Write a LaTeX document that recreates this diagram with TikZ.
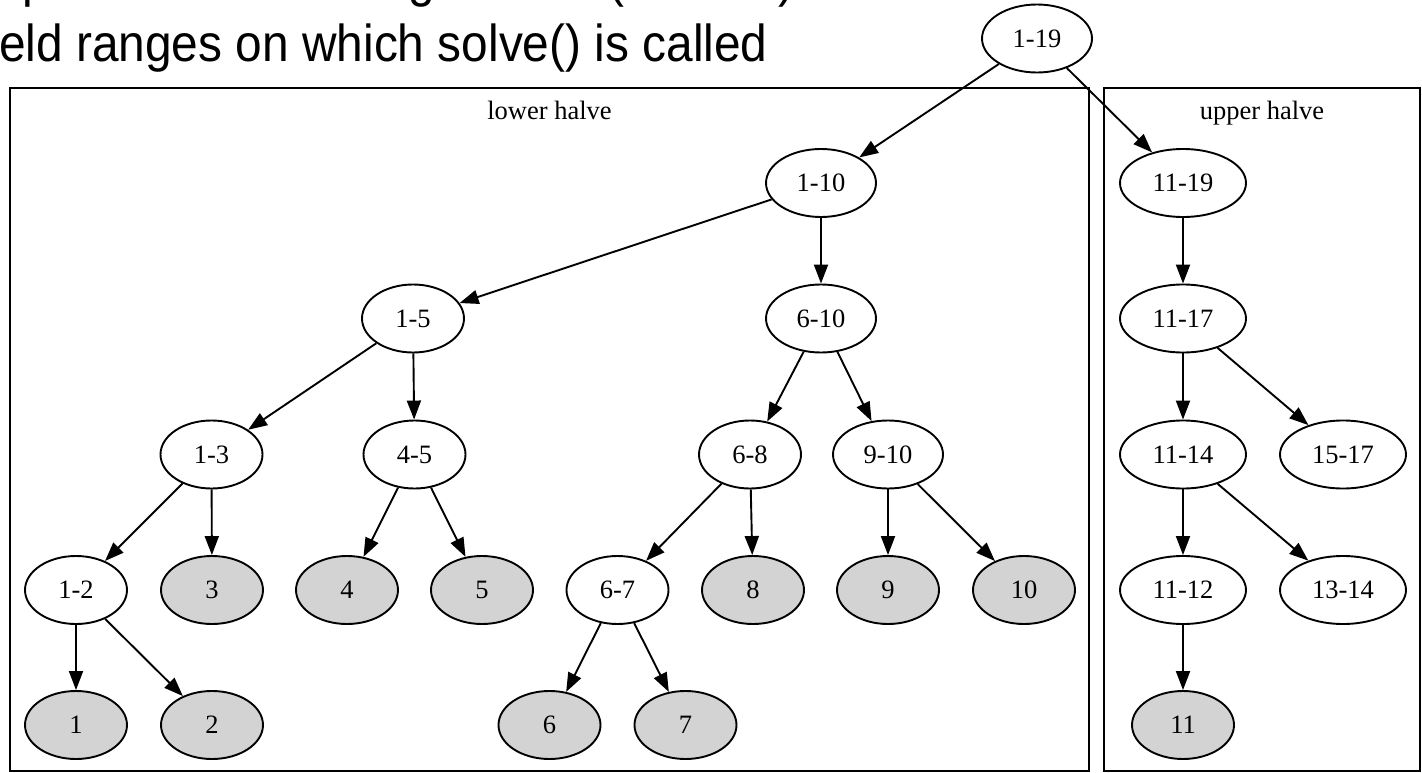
\documentclass[tikz,border=0pt]{standalone}
\usepackage{graphicx}
\usepackage{fontspec}
\setmainfont{Liberation Serif}
\newfontfamily\hdrfont{Liberation Sans}
\usetikzlibrary{shapes.geometric,arrows.meta}
\definecolor{lightg}{HTML}{D3D3D3}
\tikzset{
  nd/.style={ellipse, draw, line width=1.9pt, minimum width=102pt, minimum height=68pt, inner sep=0pt, font=\fontsize{26.5}{30}\selectfont},
  leaf/.style={nd, fill=lightg},
  w3/.style={minimum width=110pt},
  w4/.style={minimum width=126pt},
  arr/.style={-{Triangle[length=19pt,width=14pt]}, line width=1.9pt},
  clus/.style={draw, line width=1.9pt},
  clab/.style={font=\fontsize{26.5}{30}\selectfont, inner sep=0pt, anchor=base},
  hdr/.style={anchor=base west, inner sep=0pt, font=\hdrfont\fontsize{52}{56}\selectfont}
}
\begin{document}
\begin{tikzpicture}[x=1pt,y=-1pt]
\useasboundingbox (0,0) rectangle (1422,773);
% header: cut-off first line (only descenders visible)
\begin{scope}
\clip (0,0) rectangle (1422,11);
\node[hdr] (f1) at (22,-3) {\scalebox{0.92}[1]{p}};
\node[hdr] (f2) at (408,-3) {\scalebox{0.92}[1]{g}};
\node[hdr] (f3) at (608,-3) {\scalebox{0.92}[1]{(}};
\node[hdr] (f4) at (778,-3) {\scalebox{0.92}[1]{)}};
\end{scope}
\node[hdr] (hdr) at (-1,62) {\scalebox{0.92}[1]{eld ranges on which solve() is called}};
% clusters
\node[clus, minimum width=1079pt, minimum height=683pt, inner sep=0pt] (lowbox) at (549.5,429.5) {};
\node[clus, minimum width=316pt, minimum height=683pt, inner sep=0pt] (upbox) at (1262,429.5) {};
\node[clab] (lowlab) at (549.5,120) {lower halve};
\node[clab] (uplab) at (1262,120) {upper halve};
% nodes
\node[nd,w3] (n119) at (1037,38.5) {1-19};
\node[nd,w3] (n110) at (821,183) {1-10};
\node[nd,w4] (n1119) at (1183,183) {11-19};
\node[nd] (n15) at (413,318.5) {1-5};
\node[nd,w3] (n610) at (821,318.5) {6-10};
\node[nd,w4] (n1117) at (1183,318.5) {11-17};
\node[nd] (n13) at (211.5,454.5) {1-3};
\node[nd] (n45) at (414.5,454.5) {4-5};
\node[nd] (n68) at (750,454.5) {6-8};
\node[nd,w3] (n910) at (888,454.5) {9-10};
\node[nd,w4] (n1114) at (1183,454.5) {11-14};
\node[nd,w4] (n1517) at (1343,454.5) {15-17};
\node[nd] (n12) at (76,590) {1-2};
\node[leaf] (l3) at (212,590) {3};
\node[leaf] (l4) at (347,590) {4};
\node[leaf] (l5) at (482,590) {5};
\node[nd] (n67) at (617.5,590) {6-7};
\node[leaf] (l8) at (753,590) {8};
\node[leaf] (l9) at (888,590) {9};
\node[leaf] (l10) at (1024,590) {10};
\node[nd,w4] (n1112) at (1183,590) {11-12};
\node[nd,w4] (n1314) at (1343,590) {13-14};
\node[leaf] (l1) at (76,725) {1};
\node[leaf] (l2) at (212,725) {2};
\node[leaf] (l6) at (549.5,725) {6};
\node[leaf] (l7) at (685.5,725) {7};
\node[leaf] (l11) at (1183,725) {11};
% edges
\draw[arr] (n119) -- (n110);
\draw[arr] (n119) -- (n1119);
\draw[arr] (n110) -- (n15);
\draw[arr] (n110) -- (n610);
\draw[arr] (n15) -- (n13);
\draw[arr] (n15) -- (n45);
\draw[arr] (n610) -- (n68);
\draw[arr] (n610) -- (n910);
\draw[arr] (n13) -- (n12);
\draw[arr] (n13) -- (l3);
\draw[arr] (n45) -- (l4);
\draw[arr] (n45) -- (l5);
\draw[arr] (n68) -- (n67);
\draw[arr] (n68) -- (l8);
\draw[arr] (n910) -- (l9);
\draw[arr] (n910) -- (l10);
\draw[arr] (n12) -- (l1);
\draw[arr] (n12) -- (l2);
\draw[arr] (n67) -- (l6);
\draw[arr] (n67) -- (l7);
\draw[arr] (n1119) -- (n1117);
\draw[arr] (n1117) -- (n1114);
\draw[arr] (n1117) -- (n1517);
\draw[arr] (n1114) -- (n1112);
\draw[arr] (n1114) -- (n1314);
\draw[arr] (n1112) -- (l11);
\end{tikzpicture}
\end{document}
